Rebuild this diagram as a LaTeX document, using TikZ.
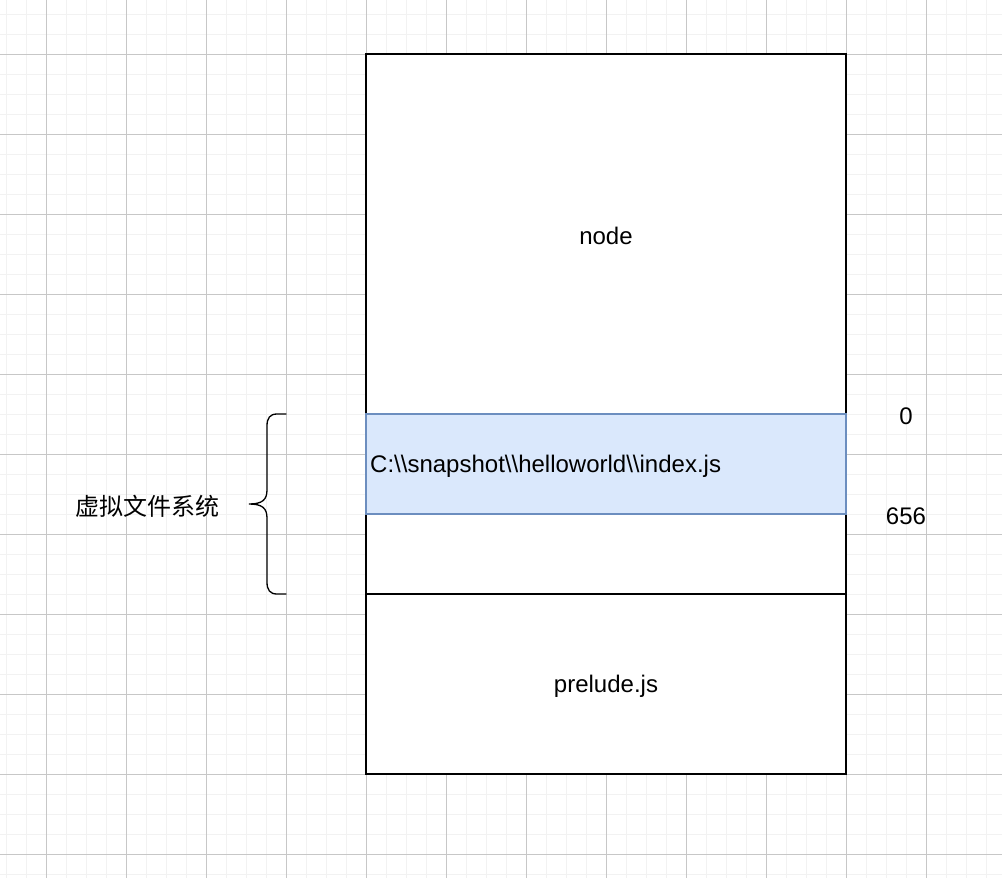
\documentclass[tikz,border=0pt]{standalone}
\usepackage{fontspec}
\setmainfont{Liberation Sans}
\newfontfamily\cjk{Noto Sans CJK SC}
\definecolor{vfsfill}{RGB}{218,232,252}
\definecolor{vfsline}{RGB}{108,142,191}
\begin{document}
\begin{tikzpicture}[x=1pt,y=-1pt,
  minorgrid/.style={draw=black!5,line width=1pt},
  majorgrid/.style={draw=black!22,line width=1pt},
  box/.style={draw=black,line width=1.3pt,fill=white,inner sep=0pt},
  vfs/.style={draw=vfsline,line width=1.2pt,fill=vfsfill,inner sep=0pt},
  lbl/.style={font=\fontsize{24}{28}\selectfont,inner sep=0pt}]
\useasboundingbox (0,0) rectangle (1002,878);
\fill[white] (0,0) rectangle (1002,878);
% grid
\foreach \x in {6,26,...,1002} \draw[minorgrid] (\x,0) -- (\x,878);
\foreach \y in {14,34,...,878} \draw[minorgrid] (0,\y) -- (1002,\y);
\foreach \x in {46,126,...,1002} \draw[majorgrid] (\x,0) -- (\x,878);
\foreach \y in {54,134,...,878} \draw[majorgrid] (0,\y) -- (1002,\y);
% boxes
\node[box,minimum width=480pt,minimum height=360pt] (nodebox) at (606,234) {};
\node[box,minimum width=480pt,minimum height=180pt] (vfsbox) at (606,504) {};
\node[box,minimum width=480pt,minimum height=180pt] (prelude) at (606,684) {};
\node[vfs,minimum width=480pt,minimum height=100pt] (index) at (606,464) {};
\node[lbl] (tnode) at (606,236) {node};
\node[lbl,anchor=west] (tindex) at (370,466) {C:\textbackslash\textbackslash snapshot\textbackslash\textbackslash helloworld\textbackslash\textbackslash index.js};
\node[lbl] (tprelude) at (606,686) {prelude.js};
\node[lbl] (zero) at (906,416) {0};
\node[lbl] (end) at (906,516) {656};
\node[lbl,font=\cjk\fontsize{24}{28}\selectfont] (label) at (147,506) {虚拟文件系统};
% brace
\coordinate (btop) at (286,414);
\coordinate (bbot) at (286,594);
\coordinate (btip) at (249,504);
\draw[line width=1.3pt,line cap=round] (btop) -- (277,414) .. controls (270,414) and (267,418) .. (267,426)
  -- (267,490) .. controls (267,500) and (262,504) .. (btip)
  .. controls (262,504) and (267,508) .. (267,518) -- (267,582)
  .. controls (267,590) and (270,594) .. (277,594) -- (bbot);
\end{tikzpicture}
\end{document}
